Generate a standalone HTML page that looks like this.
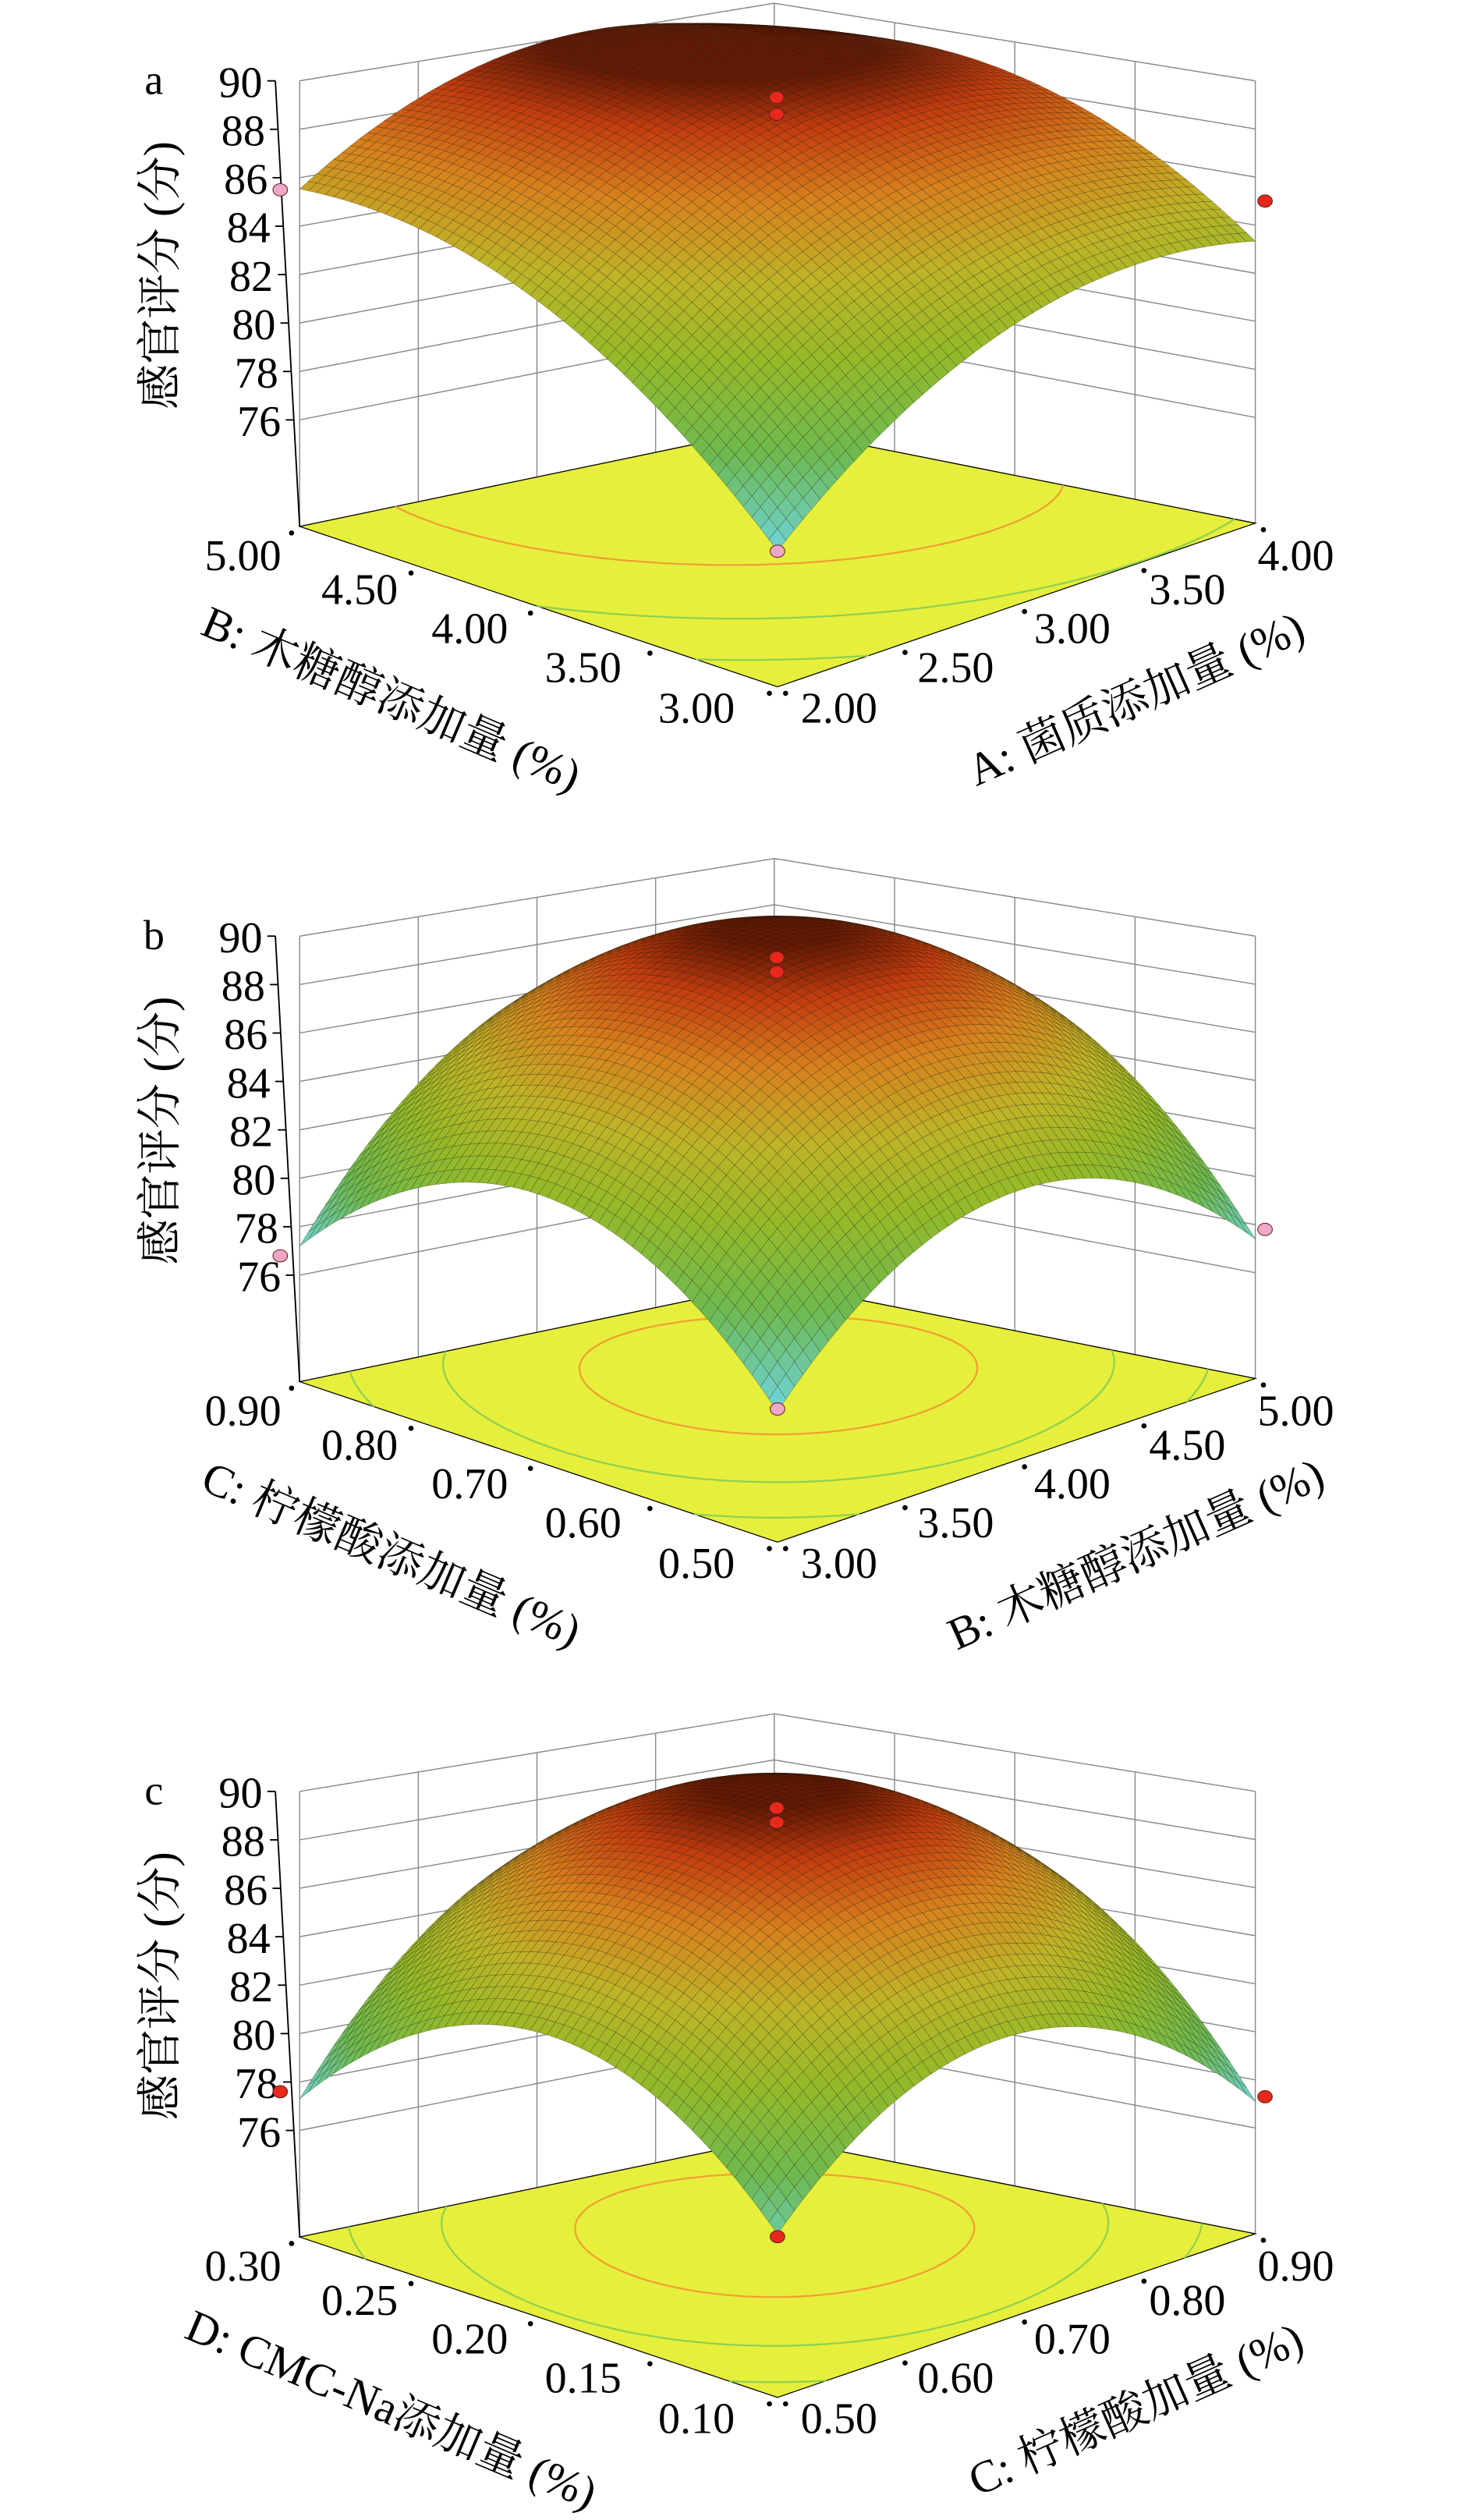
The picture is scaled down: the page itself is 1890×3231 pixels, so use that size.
<!DOCTYPE html>
<html><head><meta charset="utf-8">
<style>
html,body{margin:0;padding:0;background:#fff;}
svg{display:block;}
text{font-family:"Liberation Serif","Noto Serif CJK SC","Noto Sans CJK SC",serif;fill:#000;}
</style></head>
<body>
<svg id="chart" width="1890" height="3231" viewBox="0 0 910 1555.7" xmlns="http://www.w3.org/2000/svg"></svg>
<script>
// ---- data ----
const zTicks = [76, 78, 80, 82, 84, 86, 88, 90];
const panelLetters = ['a', 'b', 'c'];
const leftTitles = ['B: 木糖醇添加量 (%)', 'C: 柠檬酸添加量 (%)', 'D: CMC-Na添加量 (%)'];
const rightTitles = ['A: 菌质添加量 (%)', 'B: 木糖醇添加量 (%)', 'C: 柠檬酸加量 (%)'];
const leftTicks = [['5.00','4.50','4.00','3.50','3.00'], ['0.90','0.80','0.70','0.60','0.50'], ['0.30','0.25','0.20','0.15','0.10']];
const rightTicks = [['2.00','2.50','3.00','3.50','4.00'], ['3.00','3.50','4.00','4.50','5.00'], ['0.50','0.60','0.70','0.80','0.90']];
// quadratic model coefficients per panel: [c, bRight, bLeft, bRight2, bLeft2, bCross]
const coefA = [89.2, 2.33, 3.43, -2.9, -2.7, -0.83];
const coefB = [89.8, 1.9, 1.8, -5.45, -5.45, 1.6];
const coefC = [90.0, 1.4, 1.5, -5.45, -5.45, 1.9];
// design points per panel: [s, t, z, colour]
const pointsA = [[0,0,90.0,'r'],[0,0,89.3,'r'],[-1,1,85.5,'p'],[1,-1,85.0,'r'],[-1,-1,77.0,'p']];
const pointsB = [[0,0,89.8,'r'],[0,0,89.2,'r'],[-1,1,76.8,'p'],[1,-1,77.8,'p'],[-1,-1,76.9,'p']];
const pointsC = [[0,0,90.0,'r'],[0,0,89.4,'r'],[-1,1,77.6,'r'],[1,-1,77.3,'r'],[-1,-1,78.0,'r']];
const contourLevels = [88, 84, 80, 76];

const coefs = [coefA, coefB, coefC];
const points = [pointsA, pointsB, pointsC];
const NS = 'http://www.w3.org/2000/svg';
const svg = document.getElementById('chart');
const Z0 = 71.6, ZMAX = 90;

function el(tag, attrs, parent, txt) {
  const e = document.createElementNS(NS, tag);
  for (const k in attrs) e.setAttribute(k, attrs[k]);
  if (txt !== undefined) e.textContent = txt;
  parent.appendChild(e);
  return e;
}
function model(c, s, t) {
  return c[0] + c[1]*s + c[2]*t + c[3]*s*s + c[4]*t*t + c[5]*s*t;
}
function makeProj(oy) {
  const F = [480, 424+oy], R = [775, 323+oy], L = [185, 325+oy], B = [478, 264+oy];
  const sF = 15.5, sR = 14.84, sL = 14.95, sB = 14.24;
  return function(u, v, z) {
    const a = (1-u)*(1-v), b = u*(1-v), c = (1-u)*v, d = u*v;
    const x = F[0]*a + R[0]*b + L[0]*c + B[0]*d;
    const y = F[1]*a + R[1]*b + L[1]*c + B[1]*d;
    const sc = sF*a + sR*b + sL*c + sB*d;
    return [x, y - (z - Z0)*sc];
  };
}
const stops = [[0,[40,90,200]],[0.2,[70,150,220]],[0.3,[110,210,210]],[0.45,[110,185,80]],[0.6,[150,185,40]],[0.72,[190,180,40]],[0.84,[215,130,30]],[0.94,[195,60,15]],[1,[100,25,5]]];
function color(z) {
  let t = Math.max(0, Math.min(1, (z - Z0)/(ZMAX - Z0)));
  for (let i = 1; i < stops.length; i++) {
    if (t <= stops[i][0]) {
      const [t0, c0] = stops[i-1], [t1, c1] = stops[i];
      const f = (t - t0)/(t1 - t0);
      return 'rgb(' + c0.map((v, k) => Math.round(v + (c1[k]-v)*f)).join(',') + ')';
    }
  }
  return 'rgb(100,25,5)';
}
const pstr = p => p[0].toFixed(1) + ',' + p[1].toFixed(1);

for (let pi = 0; pi < 3; pi++) {
  const oy = pi * 528;
  const P = makeProj(oy);
  const c = coefs[pi];
  const g = el('g', {}, svg);
  
  

  // walls
  const walls = el('g', {stroke: '#8a8a8a', 'stroke-width': 0.7, fill: 'none'}, g);
  
  
  const zl = zTicks.concat([Z0]);
  zl.forEach(z => {
    el('polyline', {points: [P(0,1,z), P(1,1,z), P(1,0,z)].map(pstr).join(' ')}, walls);
  });
  for (let i = 0; i <= 4; i++) {
    const f = i/4;
    el('line', {x1: P(f,1,Z0)[0], y1: P(f,1,Z0)[1], x2: P(f,1,ZMAX)[0], y2: P(f,1,ZMAX)[1]}, walls);
    el('line', {x1: P(1,f,Z0)[0], y1: P(1,f,Z0)[1], x2: P(1,f,ZMAX)[0], y2: P(1,f,ZMAX)[1]}, walls);
  }

  // floor
  const floor = el('polygon', {points: [P(0,0,Z0), P(1,0,Z0), P(1,1,Z0), P(0,1,Z0)].map(pstr).join(' '), fill: '#e6ef3c', stroke: '#000', 'stroke-width': 0.6}, g);
  
  

  // contours via marching squares
  const N = 60;
  const cg = el('g', {fill: 'none', 'stroke-width': 1.1}, g);
  
  
  contourLevels.forEach(lev => {
    const col = lev >= 86 ? '#f0a030' : '#8fd050';
    let d = '';
    for (let i = 0; i < N; i++) for (let j = 0; j < N; j++) {
      const us = [i/N, (i+1)/N], vs = [j/N, (j+1)/N];
      const corners = [[us[0],vs[0]],[us[1],vs[0]],[us[1],vs[1]],[us[0],vs[1]]];
      const vals = corners.map(q => model(c, 2*q[0]-1, 2*q[1]-1) - lev);
      const pts = [];
      for (let k = 0; k < 4; k++) {
        const a = vals[k], b = vals[(k+1)%4];
        if ((a < 0) !== (b < 0)) {
          const f = a/(a-b), q0 = corners[k], q1 = corners[(k+1)%4];
          pts.push(P(q0[0]+(q1[0]-q0[0])*f, q0[1]+(q1[1]-q0[1])*f, Z0));
        }
      }
      if (pts.length >= 2) d += 'M' + pstr(pts[0]) + 'L' + pstr(pts[1]);
      if (pts.length === 4) d += 'M' + pstr(pts[2]) + 'L' + pstr(pts[3]);
    }
    el('path', {d: d, stroke: col}, cg);
  });

  // surface
  const sg = el('g', {stroke: 'rgba(20,20,0,0.45)', 'stroke-width': 0.25}, g);
  
  
  const M = 56;
  const cells = [];
  for (let i = 0; i < M; i++) for (let j = 0; j < M; j++) cells.push([i, j]);
  cells.sort((a, b) => (b[0]+b[1]) - (a[0]+a[1]));
  cells.forEach(([i, j]) => {
    const q = [[i,j],[i+1,j],[i+1,j+1],[i,j+1]].map(([a,b]) => {
      const u = a/M, v = b/M;
      const z = model(c, 2*u-1, 2*v-1);
      return [P(u, v, z), z];
    });
    const zm = (q[0][1]+q[1][1]+q[2][1]+q[3][1])/4;
    el('polygon', {points: q.map(e => pstr(e[0])).join(' '), fill: color(zm)}, sg);
  });

  // z axis
  const ax = el('g', {stroke: '#000', 'stroke-width': 0.9}, g);
  
  
  const zb = P(0,1,Z0), zt = P(0,1,ZMAX);
  el('line', {x1: zb[0], y1: zb[1], x2: zt[0]-15, y2: zt[1]}, ax);
  zTicks.forEach(z => {
    const f = (z - Z0)/(ZMAX - Z0);
    const p = P(0,1,z);
    const x = p[0] - 15*f;
    el('line', {x1: x, y1: p[1], x2: x-5, y2: p[1]}, ax);
    const t = el('text', {x: x-8, y: p[1]+10, 'font-size': 27, 'text-anchor': 'end', stroke: 'none'}, ax, String(z));
    
    
  });
  // floor edge ticks
  for (let i = 0; i <= 4; i++) {
    const f = i/4;
    const a = P(0, f, Z0), b = P(f, 0, Z0);
    el('circle', {cx: a[0]-5, cy: a[1]+4, r: 1.6, fill: '#000'}, g);
    el('circle', {cx: b[0]+5, cy: b[1]+4, r: 1.6, fill: '#000'}, g);
  }
  const lt = [[150,352],[222,373],[290,397],[360,421],[430,446]];
  const rt = [[518,446],[590,421],[662,397],[733,373],[800,352]];
  leftTicks[pi].forEach((s, k) => {
    const t = el('text', {x: lt[k][0], y: lt[k][1]+oy, 'font-size': 27, 'text-anchor': 'middle'}, g, s);
    
    
  });
  rightTicks[pi].forEach((s, k) => {
    const t = el('text', {x: rt[k][0], y: rt[k][1]+oy, 'font-size': 27, 'text-anchor': 'middle'}, g, s);
    
    
  });
  const tl = el('text', {x: 0, y: 0, 'font-size': 28, 'text-anchor': 'middle', transform: 'translate(238,' + (440+oy) + ') rotate(23)'}, g, leftTitles[pi]);
  
  
  const tr = el('text', {x: 0, y: 0, 'font-size': 28, 'text-anchor': 'middle', transform: 'translate(705,' + (440+oy) + ') rotate(-24)'}, g, rightTitles[pi]);
  
  
  const ty = el('text', {x: 0, y: 0, 'font-size': 28, 'text-anchor': 'middle', transform: 'translate(108,' + (170+oy) + ') rotate(-90)'}, g, '感官评分 (分)');
  
  
  const pl = el('text', {x: 95, y: 58+oy, 'font-size': 26, 'text-anchor': 'middle'}, g, panelLetters[pi]);
  
  

  // design points
  points[pi].forEach(([s, t, z, col]) => {
    const p = P((s+1)/2, (t+1)/2, z);
    const dx = s === -1 && t === 1 ? -12 : (s === 1 && t === -1 ? 6 : 0);
    const ci = el('ellipse', {cx: p[0]+dx, cy: p[1], rx: 4.5, ry: 3.8, fill: col === 'r' ? '#e8281a' : '#f0a8c8', stroke: '#602020', 'stroke-width': 0.5}, g);
    
    
  });
}
</script>
</body></html>
